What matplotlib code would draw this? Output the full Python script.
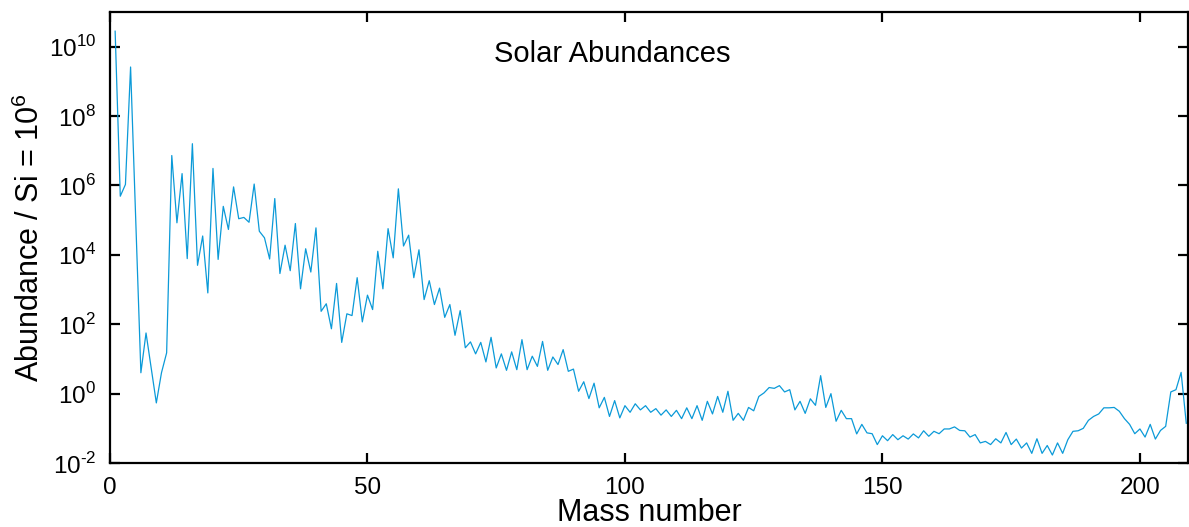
import math
import matplotlib
matplotlib.use("Agg")
import matplotlib.pyplot as plt
from matplotlib.ticker import FixedLocator, FuncFormatter, NullLocator

plt.rcParams['font.family'] = ['Liberation Sans', 'DejaVu Sans']
plt.rcParams['axes.unicode_minus'] = False
plt.rcParams['mathtext.fontset'] = 'custom'
plt.rcParams['mathtext.rm'] = 'Liberation Sans'

# mass numbers 1..209 (no stable nuclei at A=5 and A=8)
mass = [1, 2, 3, 4] + [6, 7] + list(range(9, 210))

abundance = [
    2.8e10, 4.9e5, 1.07e6, 2.6e9,                      # 1-4
    4.0, 56,                                            # 6-7
    0.54, 4.0, 15, 7.3e6, 8.4e4, 2.2e6, 7.8e3, 1.6e7,   # 9-16
    5.0e3, 3.5e4, 800, 3.1e6, 7.4e3, 2.5e5, 5.4e4,      # 17-23
    9.1e5, 1.1e5, 1.2e5, 8.7e4, 1.1e6, 4.8e4, 3.1e4,    # 24-30
    7.6e3, 4.2e5, 2.9e3, 1.9e4, 3.5e3, 8.0e4, 1.05e3,   # 31-37
    1.5e4, 3.2e3, 6.0e4, 236, 390, 74, 1.5e3, 30,       # 38-45
    200, 178, 2.2e3, 117, 690, 265, 1.27e4, 1.05e3,     # 46-53
    5.7e4, 8.2e3, 8.0e5, 1.8e4, 3.7e4, 2.2e3, 1.4e4,    # 54-60
    515, 1.8e3, 370, 1.1e3, 158, 370, 48, 247, 21, 31,  # 61-70
    14, 30, 8.2, 42, 5.5, 14, 4.7, 16, 4.9, 36,         # 71-80
    4.9, 12, 6.1, 32, 4.7, 11.4, 6.9, 18.6, 4.4, 5.1,   # 81-90
    1.17, 2.2, 0.72, 2.0, 0.39, 0.78, 0.22, 0.63, 0.20, 0.45,     # 91-100
    0.29, 0.51, 0.34, 0.45, 0.29, 0.37, 0.24, 0.34, 0.22, 0.33,   # 101-110
    0.19, 0.39, 0.19, 0.45, 0.17, 0.60, 0.26, 0.83, 0.29, 1.17,   # 111-120
    0.17, 0.27, 0.17, 0.40, 0.32, 0.83, 1.05, 1.5, 1.42, 1.7,     # 121-130
    1.12, 1.3, 0.34, 0.60, 0.27, 0.71, 0.46, 3.3, 0.40, 1.0,      # 131-140
    0.16, 0.33, 0.19, 0.19, 0.069, 0.13, 0.074, 0.070, 0.034, 0.061,   # 141-150
    0.044, 0.066, 0.047, 0.061, 0.049, 0.069, 0.053, 0.085, 0.059, 0.082,  # 151-160
    0.070, 0.096, 0.096, 0.11, 0.087, 0.085, 0.056, 0.066, 0.038, 0.042,  # 161-170
    0.034, 0.050, 0.038, 0.076, 0.034, 0.049, 0.027, 0.038, 0.019, 0.050,  # 171-180
    0.019, 0.032, 0.017, 0.038, 0.019, 0.047, 0.082, 0.085, 0.10, 0.17,   # 181-190
    0.22, 0.26, 0.39, 0.39, 0.40, 0.31, 0.19, 0.13, 0.070, 0.096,        # 191-200
    0.056, 0.13, 0.049, 0.087, 0.114, 1.12, 1.3, 4.1, 0.14,              # 201-209
]

ytick_exps = [-2, 0, 2, 4, 6, 8, 10]
xtick_vals = [0, 50, 100, 150, 200]


def pow10_label(v, pos):
    # plain hyphen for negative exponents
    e = int(round(math.log10(v)))
    s = str(e).replace('-', r'\text{-}')
    return r'$10^{%s}$' % s


fig = plt.figure(figsize=(11.89, 5.27), dpi=100)
ax = fig.add_axes([0.0925, 0.1214, 0.9065, 0.8558])

ax.plot(mass, abundance, color='#0b9ad8', lw=0.9)

ax.set_yscale('log')
ax.set_xlim(0, 209.3)
ax.set_ylim(1e-2, 1e11)
ax.yaxis.set_major_locator(FixedLocator([10.0 ** e for e in ytick_exps]))
ax.yaxis.set_major_formatter(FuncFormatter(pow10_label))
ax.yaxis.set_minor_locator(NullLocator())
ax.set_xticks(xtick_vals)

ax.tick_params(direction='in', length=7.5, width=1.6, labelsize=17.5,
               top=True, right=True, pad=10)
for s in ax.spines.values():
    s.set_linewidth(1.6)

ax.set_xlabel('Mass number', fontsize=22, va='center')
ax.xaxis.set_label_coords(0.5, -0.111)
ax.set_ylabel('Abundance / Si = 10$^6$', fontsize=22, va='center')
ax.yaxis.set_label_coords(-0.0742, 0.5)
ax.text(0.466, 0.907, 'Solar Abundances', transform=ax.transAxes,
        ha='center', va='center', fontsize=21)

fig.savefig('out.png', dpi=100)
